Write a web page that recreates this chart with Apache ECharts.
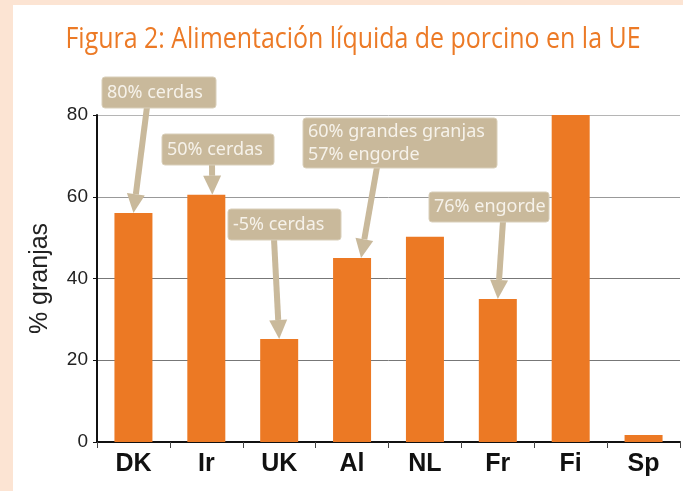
<!DOCTYPE html>
<html>
<head>
<meta charset="utf-8">
<script src="https://cdn.jsdelivr.net/npm/echarts@6/dist/echarts.min.js"></script>
<style>
  body { margin: 0; background: #fce4d3; }
  #panel { position: absolute; left: 13px; top: 5px; width: 670px; height: 486px; background: #fff; }
  #chart { position: absolute; left: 0; top: 0; width: 683px; height: 491px; }
</style>
</head>
<body>
<div id="panel"></div>
<div id="chart"></div>
<script>
// data
var categories = ['DK', 'Ir', 'UK', 'Al', 'NL', 'Fr', 'Fi', 'Sp'];
var granjas = [56, 60.5, 25.2, 45, 50.2, 35, 80, 1.7];
var noteCats = ['DK', 'Ir', 'UK', 'Al', 'Fr'];
var noteTexts = ['80% cerdas', '50% cerdas', '-5% cerdas', '60% grandes granjas\n57% engorde', '76% engorde'];
var titleText = 'Figura 2: Alimentación líquida de porcino en la UE';

// box layout: [left, top, width, height], arrow start x, tip x offset
var noteBoxes = [
  [102, 77, 114, 31, 147, 0],
  [162, 134, 112, 31, 212, 6],
  [228, 209, 113, 31, 274, 0],
  [303, 118, 194, 50, 377, 9],
  [429, 192, 120, 30, 503, 0]
];

var tan = '#c9b99b';
var dom = document.getElementById('chart');
var myChart = echarts.init(dom);

var option = {
  backgroundColor: 'transparent',
  animation: false,
  grid: { left: 97, right: 3, top: 115, bottom: 49 },
  xAxis: {
    type: 'category',
    data: categories,
    axisLine: { lineStyle: { color: '#111', width: 2 } },
    axisTick: { show: true, length: 6, lineStyle: { color: '#444' } },
    axisLabel: {
      color: '#111',
      fontWeight: 'bold',
      fontSize: 25,
      margin: 10,
      fontFamily: '"Liberation Sans", sans-serif'
    }
  },
  yAxis: {
    type: 'value',
    min: 0,
    max: 80,
    interval: 20,
    name: '% granjas',
    nameLocation: 'middle',
    nameGap: 44,
    nameRotate: 90,
    nameTextStyle: { color: '#222', fontSize: 25, fontFamily: '"Liberation Sans", sans-serif' },
    axisLine: { show: true, lineStyle: { color: '#111', width: 2 } },
    axisTick: { show: true, length: 4, lineStyle: { color: '#111' } },
    axisLabel: {
      color: '#222',
      fontSize: 19,
      margin: 9,
      fontFamily: '"Liberation Sans", sans-serif'
    },
    splitLine: { lineStyle: { color: ['#777', '#777', '#777', '#999', '#b5b5b5'], width: 1 } }
  },
  series: [{
    type: 'bar',
    data: granjas,
    barWidth: 38,
    itemStyle: { color: '#ec7924' },
    z: 3
  }]
};

myChart.setOption(option);

function arrow(x1, y1, x2, y2) {
  var dx = x2 - x1, dy = y2 - y1, len = Math.sqrt(dx * dx + dy * dy);
  var ux = dx / len, uy = dy / len;
  var hl = 19, hw = 9;
  var bx = x2 - ux * hl, by = y2 - uy * hl;
  var px = -uy, py = ux;
  return [
    { type: 'line', z: 10, shape: { x1: x1, y1: y1, x2: bx, y2: by }, style: { stroke: tan, lineWidth: 6 } },
    { type: 'polygon', z: 10, shape: { points: [[x2, y2], [bx + px * hw, by + py * hw], [bx - px * hw, by - py * hw]] }, style: { fill: tan } }
  ];
}

// condensed-looking title
var elements = [{
  type: 'text',
  x: 353,
  y: 40,
  scaleX: 0.86,
  style: {
    text: titleText,
    fill: '#ec7a26',
    font: '29px "Open Sans", sans-serif',
    textAlign: 'center',
    textVerticalAlign: 'middle'
  }
}];

noteCats.forEach(function (cat, i) {
  var b = noteBoxes[i];
  var idx = categories.indexOf(cat);
  var tip = myChart.convertToPixel({ seriesIndex: 0 }, [idx, granjas[idx]]);
  elements = elements.concat(arrow(b[4], b[1] + b[3] - 1, tip[0] + b[5], tip[1]));
  elements.push({
    type: 'rect', z: 11,
    shape: { x: b[0], y: b[1], width: b[2], height: b[3], r: 3 },
    style: { fill: tan, stroke: '#d9cfba', lineWidth: 1 }
  });
  elements.push({
    type: 'text', z: 12,
    style: {
      text: noteTexts[i],
      x: b[0] + 5,
      y: b[1] + b[3] / 2,
      fill: '#f6f2ea',
      font: '18px "Noto Sans", sans-serif',
      lineHeight: 23,
      textAlign: 'left',
      textVerticalAlign: 'middle'
    }
  });
});

myChart.setOption({ graphic: elements });
</script>
</body>
</html>
